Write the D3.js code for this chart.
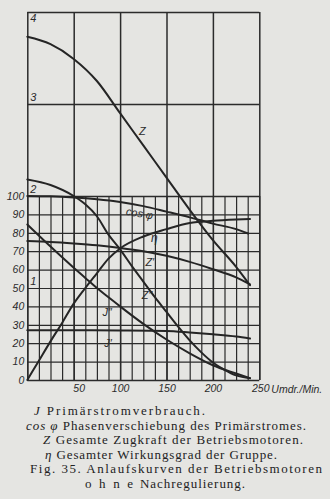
<!DOCTYPE html>
<html><head><meta charset="utf-8">
<script src="https://cdn.jsdelivr.net/npm/d3@7"></script>
<style>
html,body{margin:0;padding:0;background:#e5e5e2;}
svg{display:block;}
</style></head><body>
<svg id="c" width="330" height="499"></svg>
<script>
// ---------- data ----------
const xTicks = [50, 100, 150, 200, 250];
const xMain = [0, 50, 100, 150, 200, 250];
const fineTicks = [0, 10, 20, 30, 40, 50, 60, 70, 80, 90, 100];
const bigTicks = [1, 2, 3, 4];
const bigLines = [3, 4];

const rpmZ = [0, 25, 50, 75, 100, 125, 150, 175, 200, 225, 240];
const valZ = [3.73, 3.65, 3.49, 3.25, 2.90, 2.55, 2.20, 1.85, 1.52, 1.23, 1.03];

const rpmCos = [0, 25, 50, 75, 100, 125, 150, 175, 200, 225, 238];
const valCos = [100, 99.8, 99.2, 98.2, 96.7, 94.5, 91.5, 88.4, 85, 82, 79.6];

const rpmEta = [0, 12.5, 25, 37.5, 50, 62.5, 75, 87.5, 100, 125, 150, 175, 200, 225, 240];
const valEta = [0, 10.5, 21, 31, 41.5, 50, 58, 66, 71.5, 78, 82, 85.3, 86.5, 87.2, 87.5];

const rpmZ1 = [0, 25, 50, 75, 100, 125, 150, 175, 200, 225, 240];
const valZ1 = [75.5, 75, 74.2, 73.2, 71.8, 70, 67.5, 64.2, 60.2, 55.8, 52];

const rpmZ2 = [0, 25, 50, 62.5, 75, 87.5, 100, 112.5, 125, 137.5, 150, 162.5, 175, 187.5, 200, 212.5, 225, 240];
const valZ2 = [109, 106, 100, 95.5, 89, 79, 71, 62, 53.5, 45, 37, 29, 21.5, 15, 9.5, 5.5, 2.5, 1];

const rpmJ2 = [0, 25, 50, 62.5, 75, 87.5, 100, 125, 150, 175, 200, 225, 240];
const valJ2 = [84.5, 72.5, 61, 55.5, 50, 45, 40, 30.5, 22, 14.5, 8, 3.5, 1];

const rpmJ1 = [0, 50, 100, 150, 175, 200, 225, 240];
const valJ1 = [27, 27, 26.9, 26.6, 25.8, 24.8, 23.6, 22.5];

const captionLines = [
  ["J", " Primärstromverbrauch."],
  ["cos φ", " Phasenverschiebung des Primärstromes."],
  ["Z", " Gesamte Zugkraft der Betriebsmotoren."],
  ["η", " Gesamter Wirkungsgrad der Gruppe."],
  ["", "Fig. 35.  Anlaufskurven der Betriebsmotoren"],
  ["", "ohne"],
  ["", "Nachregulierung."]
];

// ---------- layout ----------
const svg = d3.select("#c");
const ink = "#2b2b2b";
const x = d3.scaleLinear().domain([0, 250]).range([27.3, 259.3]);
const yF = d3.scaleLinear().domain([0, 100]).range([380, 196]);
const yB = d3.scaleLinear().domain([0, 4]).range([380, 12]);
const sans = "'Liberation Sans', Arial, sans-serif";
const serif = "'Liberation Serif', 'Times New Roman', serif";

function styleAxis(g, w) {
  g.select(".domain").remove();
  g.selectAll("line").attr("stroke", ink).attr("stroke-width", w);
}

// fine vertical grid
svg.append("g").attr("transform", `translate(0,${yF(0)})`)
  .call(d3.axisBottom(x).tickValues(d3.range(0, 250.1, 12.5)).tickSize(-(yF(0) - yF(100))).tickFormat(""))
  .call(g => styleAxis(g, 1.2));

// main verticals
svg.append("g").attr("transform", `translate(0,${yB(0)})`)
  .call(d3.axisBottom(x).tickValues(xMain).tickSize(-(yB(0) - yB(4))).tickFormat(""))
  .call(g => styleAxis(g, 1.5));

// fine horizontal grid + labels
svg.append("g").attr("transform", `translate(${x(0)},0)`)
  .call(d3.axisLeft(yF).tickValues(fineTicks).tickSize(-(x(250) - x(0))).tickPadding(3).tickFormat(d3.format("d")))
  .call(g => {
    styleAxis(g, 1.2);
    g.selectAll("line").filter(d => d === 0 || d === 100).attr("stroke-width", 1.7);
    g.selectAll("text").attr("font-family", sans).attr("font-style", "italic")
      .attr("font-size", 10.5).attr("fill", ink);
  });

// main horizontal lines
svg.append("g").attr("transform", `translate(${x(0)},0)`)
  .call(d3.axisLeft(yB).tickValues(bigLines).tickSize(-(x(250) - x(0))).tickFormat(""))
  .call(g => styleAxis(g, 1.5));

// big scale labels
svg.append("g").selectAll("text").data(bigTicks).join("text")
  .attr("x", x(0) + 3)
  .attr("y", d => d === 4 ? yB(d) + 10 : yB(d) - 3)
  .attr("font-family", sans).attr("font-style", "italic").attr("font-size", 11).attr("fill", ink)
  .text(d => d);

// x labels
svg.append("g").attr("transform", `translate(0,${yF(0)})`)
  .call(d3.axisBottom(x).tickValues(xTicks).tickSize(0).tickPadding(5).tickFormat(d3.format("d")))
  .call(g => {
    g.select(".domain").remove();
    g.selectAll("text").attr("font-family", sans).attr("font-style", "italic")
      .attr("font-size", 10.5).attr("fill", ink)
      .attr("dx", d => d === 50 ? 5 : (d === 250 ? 1 : 0));
  });
svg.append("text").attr("x", x(250) + 12).attr("y", yF(0) + 13)
  .attr("font-family", sans).attr("font-style", "italic").attr("font-size", 10.5).attr("fill", ink)
  .text("Umdr./Min.");

// ---------- curves ----------
function curve(rpm, vals, ys) {
  const line = d3.line().x(d => x(d[0])).y(d => ys(d[1])).curve(d3.curveMonotoneX);
  svg.append("path").datum(rpm.map((r, i) => [r, vals[i]]))
    .attr("d", line).attr("fill", "none").attr("stroke", "#252525")
    .attr("stroke-width", 2).attr("stroke-linecap", "round");
}
curve(rpmZ, valZ, yB);
curve(rpmCos, valCos, yF);
curve(rpmEta, valEta, yF);
curve(rpmZ1, valZ1, yF);
curve(rpmZ2, valZ2, yF);
curve(rpmJ2, valJ2, yF);
curve(rpmJ1, valJ1, yF);

// curve labels [text, rpm, value, scale, rotate]
const curveLabels = [
  ["Z", 124, 2.70, yB, 0],
  ["cos φ", 121, 90.6, yF, 10],
  ["η", 137, 77.5, yF, 0],
  ["Z′", 132, 64, yF, 0],
  ["Z″", 129, 46, yF, 0],
  ["J″", 86, 37, yF, 0],
  ["J′", 87, 20, yF, 0]
];
svg.append("g").selectAll("text").data(curveLabels).join("text")
  .attr("transform", d => `translate(${x(d[1])},${d[3](d[2])}) rotate(${d[4]})`)
  .attr("text-anchor", "middle").attr("dy", "0.35em")
  .attr("font-family", sans).attr("font-style", "italic")
  .attr("font-size", d => d[0] === "η" ? 12 : 11).attr("fill", ink)
  .text(d => d[0]);

// ---------- caption ----------
const capPos = [[34, 415, 171], [26, 429.5, 280], [43, 444, 260], [45, 458.5, 232], [30, 473, 292], [85, 487.5, 48], [140, 487.5, 105]];
captionLines.forEach((ln, i) => {
  const p = capPos[i];
  const t = svg.append("text").attr("x", p[0]).attr("y", p[1])
    .attr("font-family", serif).attr("font-size", 13).attr("fill", "#222")
    .attr("textLength", p[2]).attr("lengthAdjust", "spacing");
  if (ln[0]) t.append("tspan").attr("font-style", "italic").text(ln[0]);
  t.append("tspan").text(ln[1]);
});
</script>
</body></html>
